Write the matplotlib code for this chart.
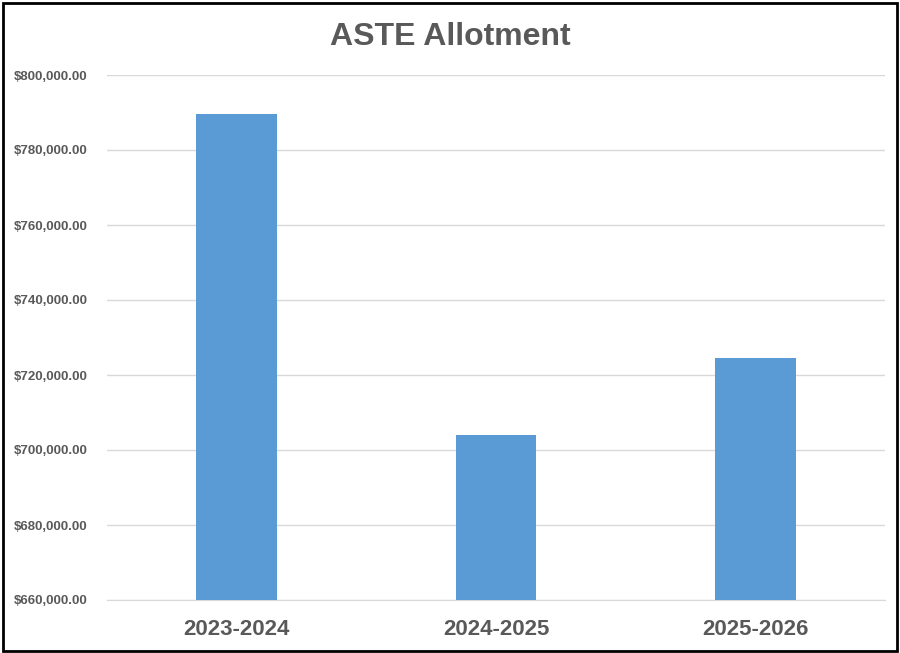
import matplotlib
matplotlib.use("Agg")
import matplotlib.pyplot as plt
from matplotlib.ticker import FuncFormatter, MultipleLocator
from matplotlib.patches import Rectangle

categories = ["2023-2024", "2024-2025", "2025-2026"]
values = [789700, 704000, 724500]

plt.rcParams['font.family'] = ['Liberation Sans Narrow', 'Liberation Sans', 'DejaVu Sans']

fig = plt.figure(figsize=(9, 6.53), dpi=100)
ax = fig.add_axes([107/900, 1-600/653, (885-107)/900, (600-75)/653])

x = range(len(categories))
ax.bar(x, values, width=0.31, color="#5B9BD5", zorder=3)
ax.set_xlim(-0.5, 2.5)
ax.set_ylim(660000, 800000)
ax.yaxis.set_major_locator(MultipleLocator(20000))
ax.yaxis.set_major_formatter(FuncFormatter(lambda v, p: f"${v:,.2f}"))
ax.set_xticks(list(x))
ax.set_xticklabels(categories, fontsize=16, fontweight='bold', color="#595959")
ax.grid(axis='y', color="#D9D9D9", linewidth=1, zorder=0)
for s in ax.spines.values():
    s.set_visible(False)
ax.spines['bottom'].set_visible(True)
ax.spines['bottom'].set_color("#D9D9D9")
ax.tick_params(axis='both', length=0)
ax.tick_params(axis='y', labelsize=9.5, labelcolor="#595959", pad=14)
ax.tick_params(axis='x', pad=14)
for lbl in ax.get_yticklabels():
    lbl.set_fontweight('bold')

fig.text(0.5, 1-37/653, "ASTE Allotment", ha='center', va='center',
         fontsize=23, fontweight='bold', color="#595959")

fig.patches.append(Rectangle((3/900, 2/653), 894/900, 648/653, transform=fig.transFigure,
                             fill=False, edgecolor='black', linewidth=2))

fig.savefig("out.png", dpi=100)
